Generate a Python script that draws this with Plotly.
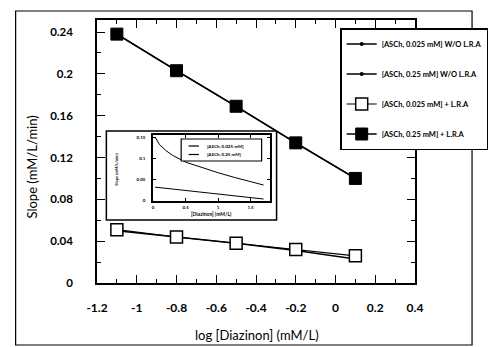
import plotly.graph_objects as go

# ---------------- data ----------------
log_diazinon = [-1.1, -0.8, -0.5, -0.2, 0.1]
wo_lra_0025 = [0.050, 0.044, 0.038, 0.031, 0.023]
wo_lra_025 = [0.238, 0.203, 0.169, 0.134, 0.100]
w_lra_0025 = [0.051, 0.044, 0.038, 0.032, 0.026]
w_lra_025 = [0.238, 0.203, 0.169, 0.134, 0.100]

series_names = [
    "[ASCh, 0.025 mM] W/O L.R.A",
    "[ASCh, 0.25 mM] W/O L.R.A",
    "[ASCh, 0.025 mM] + L.R.A",
    "[ASCh, 0.25 mM] + L.R.A",
]

x_tickvals = [-1.2, -1.0, -0.8, -0.6, -0.4, -0.2, 0.0, 0.2, 0.4]
x_ticktext = ["-1.2", "-1", "-0.8", "-0.6", "-0.4", "-0.2", "0", "0.2", "0.4"]
y_tickvals = [0, 0.04, 0.08, 0.12, 0.16, 0.2, 0.24]
y_ticktext = ["0", "0.04", "0.08", "0.12", "0.16", "0.2", "0.24"]

# inset (slope vs diazinon concentration)
inset_x_hi = [0.03, 0.1, 0.2, 0.3, 0.5, 0.75, 1.0, 1.25, 1.5, 1.7]
inset_y_hi = [0.150, 0.132, 0.118, 0.107, 0.091, 0.078, 0.066, 0.055, 0.045, 0.037]
inset_x_lo = [0.03, 0.5, 1.0, 1.5, 1.7]
inset_y_lo = [0.032, 0.024, 0.015, 0.007, 0.004]
inset_names = ["[ASCh, 0.025 mM]", "[ASCh, 0.25 mM]"]
inset_xticks = [0, 0.5, 1, 1.5]
inset_yticks = [0, 0.05, 0.1, 0.15]

# ---------------- layout geometry ----------------
W, H = 500, 347
L, R, T, B = 97, 437, 20, 283          # plot area in pixels


def px(x):
    return (x - L) / (R - L)


def py(y):
    return (B - y) / (B - T)


FONT = "Lato"
fig = go.Figure()

# main traces
fig.add_trace(go.Scatter(x=log_diazinon, y=wo_lra_0025, name=series_names[0], mode="lines+markers",
                         line=dict(color="black", width=1.5),
                         marker=dict(symbol="circle", size=4, color="black"),
                         legendgroup="a"))
fig.add_trace(go.Scatter(x=log_diazinon, y=wo_lra_025, name=series_names[1], mode="lines+markers",
                         line=dict(color="black", width=1.5),
                         marker=dict(symbol="circle", size=4, color="black"),
                         legendgroup="b"))
fig.add_trace(go.Scatter(x=log_diazinon, y=w_lra_0025, name=series_names[2], mode="lines+markers",
                         line=dict(color="black", width=1.2),
                         marker=dict(symbol="square", size=12, color="white",
                                     line=dict(color="black", width=1.5)),
                         legendgroup="c"))
fig.add_trace(go.Scatter(x=log_diazinon, y=w_lra_025, name=series_names[3], mode="lines+markers",
                         line=dict(color="black", width=1.5),
                         marker=dict(symbol="square", size=12, color="black",
                                     line=dict(color="black", width=1)),
                         legendgroup="d"))

# inset traces
fig.add_trace(go.Scatter(x=inset_x_hi, y=inset_y_hi, name=inset_names[0], mode="lines",
                         line=dict(color="black", width=1), xaxis="x2", yaxis="y2",
                         showlegend=False))
fig.add_trace(go.Scatter(x=inset_x_lo, y=inset_y_lo, name=inset_names[1], mode="lines",
                         line=dict(color="black", width=1), xaxis="x2", yaxis="y2",
                         showlegend=False))

shapes = [
    # outer picture frame
    dict(type="rect", xref="paper", yref="paper", x0=px(10), x1=px(498), y0=py(345), y1=py(11),
         line=dict(color="black", width=1.2), fillcolor="rgba(0,0,0,0)", layer="below"),
    # inset frame
    dict(type="rect", xref="paper", yref="paper", x0=px(107), x1=px(289), y0=py(220), y1=py(131),
         line=dict(color="black", width=1.5), fillcolor="white", layer="below"),
    # inset legend box
    dict(type="rect", xref="paper", yref="paper", x0=px(187), x1=px(273), y0=py(161), y1=py(139),
         line=dict(color="black", width=1.2), fillcolor="white", layer="above"),
]

annotations = [
    dict(text="Slope (mM/L/min)", x=px(27), y=py(167), xref="paper", yref="paper",
         xanchor="center", yanchor="middle",
         textangle=-90, showarrow=False, font=dict(family=FONT, size=13, color="black")),
    dict(text="log [Diazinon] (mM/L)", x=px(268), y=py(335), xref="paper", yref="paper",
         xanchor="center", yanchor="middle",
         showarrow=False, font=dict(family=FONT, size=13, color="black")),
    dict(text="Slope (mM/L/min)", x=px(117), y=py(170), xref="paper", yref="paper",
         xanchor="center", yanchor="middle",
         textangle=-90, showarrow=False, font=dict(family=FONT, size=4, color="black", weight="bold")),
    dict(text="[Diazinon] (mM/L)", x=px(219), y=py(214), xref="paper", yref="paper",
         xanchor="center", yanchor="middle",
         showarrow=False, font=dict(family=FONT, size=5, color="black", weight="bold")),
]

# inset legend entries
for i, nm in enumerate(inset_names):
    yy = 146 + i * 8.5
    shapes.append(dict(type="line", xref="paper", yref="paper", x0=px(195), x1=px(206),
                       y0=py(yy), y1=py(yy), line=dict(color="black", width=1.2), layer="above"))
    annotations.append(dict(text=nm, x=px(213), y=py(yy), xref="paper", yref="paper",
                            xanchor="left", yanchor="middle", showarrow=False,
                            font=dict(family=FONT, size=4.5, color="black", weight="bold")))

fig.update_layout(
    width=W, height=H,
    margin=dict(l=L, r=W - R, t=T, b=H - B),
    paper_bgcolor="white", plot_bgcolor="rgba(0,0,0,0)",
    font=dict(family=FONT, color="black"),
    showlegend=True,
    shapes=shapes,
    annotations=annotations,
    xaxis=dict(range=[-1.2, 0.4], tickvals=x_tickvals, ticktext=x_ticktext,
               showline=True, linecolor="black", linewidth=1.5, mirror="ticks",
               ticks="inside", ticklen=8, tickwidth=1.2, tickcolor="black",
               minor=dict(dtick=0.1, tick0=-1.2, ticks="inside", ticklen=4, tickwidth=1.2, tickcolor="black"),
               showgrid=False, zeroline=False,
               tickfont=dict(family=FONT, size=12, color="black", weight="bold"),
               ticklabelstandoff=13),
    yaxis=dict(range=[0, 0.2515], tickvals=y_tickvals, ticktext=y_ticktext,
               showline=True, linecolor="black", linewidth=1.5, mirror="ticks",
               ticks="inside", ticklen=8, tickwidth=1.2, tickcolor="black",
               minor=dict(dtick=0.02, tick0=0, ticks="inside", ticklen=4, tickwidth=1.2, tickcolor="black"),
               showgrid=False, zeroline=False,
               tickfont=dict(family=FONT, size=11.5, color="black", weight="bold"),
               ticklabelstandoff=20),
    xaxis2=dict(domain=[px(157), px(282)], anchor="y2", range=[0, 1.8], tickvals=inset_xticks,
                showline=True, linecolor="black", linewidth=1.5, mirror="ticks",
                ticks="inside", ticklen=3, tickcolor="black", showgrid=False, zeroline=False,
                tickfont=dict(family=FONT, size=4.5, color="black", weight="bold"),
                ticklabelstandoff=1),
    yaxis2=dict(domain=[py(200.7), py(135)], anchor="x2", range=[0, 0.155], tickvals=inset_yticks,
                showline=True, linecolor="black", linewidth=1.5, mirror="ticks",
                ticks="inside", ticklen=3, tickcolor="black", showgrid=False, zeroline=False,
                tickfont=dict(family=FONT, size=4.5, color="black", weight="bold"),
                ticklabelstandoff=5),
    legend=dict(x=px(357), y=py(28), xanchor="left", yanchor="top",
                bgcolor="white", bordercolor="black", borderwidth=1.5,
                font=dict(family=FONT, size=7.5, color="black", weight="bold"),
                traceorder="grouped", tracegroupgap=11, itemwidth=30),
)

# remove the browser's default 8px body margin so the figure sits at the page origin
fig.write_html("out.html",
               config={"displayModeBar": False},
               post_script="document.body.style.margin='0px'; document.body.style.overflow='hidden';")
